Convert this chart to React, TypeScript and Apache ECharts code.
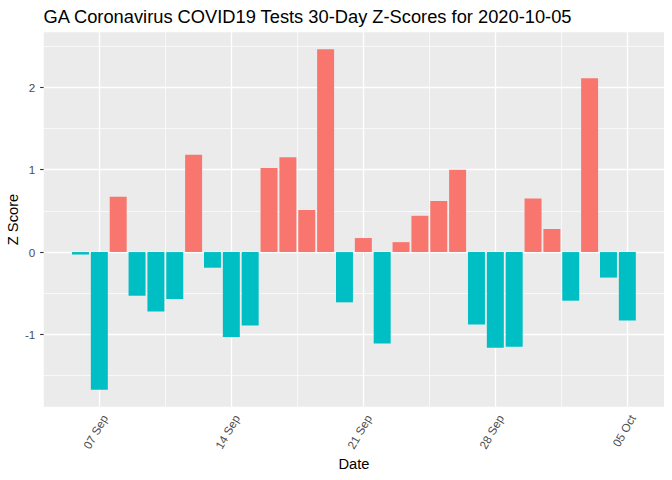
import React, { useEffect, useRef } from "react";
import * as echarts from "echarts";

const dates = [
  "2020-09-06", "2020-09-07", "2020-09-08", "2020-09-09", "2020-09-10",
  "2020-09-11", "2020-09-12", "2020-09-13", "2020-09-14", "2020-09-15",
  "2020-09-16", "2020-09-17", "2020-09-18", "2020-09-19", "2020-09-20",
  "2020-09-21", "2020-09-22", "2020-09-23", "2020-09-24", "2020-09-25",
  "2020-09-26", "2020-09-27", "2020-09-28", "2020-09-29", "2020-09-30",
  "2020-10-01", "2020-10-02", "2020-10-03", "2020-10-04", "2020-10-05",
];
const zScores = [
  -0.03, -1.67, 0.67, -0.53, -0.72, -0.57, 1.18, -0.19, -1.03, -0.89,
  1.02, 1.15, 0.51, 2.46, -0.61, 0.17, -1.11, 0.12, 0.44, 0.62,
  1.0, -0.88, -1.16, -1.15, 0.65, 0.28, -0.59, 2.11, -0.31, -0.83,
];
const xTickDates = ["2020-09-07", "2020-09-14", "2020-09-21", "2020-09-28", "2020-10-05"];
const xTickLabels = ["07 Sep", "14 Sep", "21 Sep", "28 Sep", "05 Oct"];
const xMinorDates = ["2020-09-10T12:00:00Z", "2020-09-17T12:00:00Z", "2020-09-24T12:00:00Z", "2020-10-01T12:00:00Z"];
const yTicks = [-1, 0, 1, 2];
const yMinor = [-1.5, -0.5, 0.5, 1.5, 2.5];

const DAY = 86400000;
const BASE = Date.parse("2020-08-31T00:00:00Z");
const toDay = (d: string) => (Date.parse(d.length === 10 ? d + "T00:00:00Z" : d) - BASE) / DAY;

export default function App() {
  const ref = useRef<HTMLDivElement>(null);
  useEffect(() => {
    if (!ref.current) return;
    const chart = echarts.init(ref.current, undefined, { renderer: "svg" });
    const xs = dates.map(toDay);
    const xLo = Math.min(...xs) - 0.45;
    const xHi = Math.max(...xs) + 0.45;
    const xPad = (xHi - xLo) * 0.05;
    const yLo = Math.min(...zScores);
    const yHi = Math.max(...zScores);
    const yPad = (yHi - yLo) * 0.05;
    const xTickVals = xTickDates.map(toDay);
    const font = "Liberation Sans";
    const gridLeft = 43.8;
    const gridRight = 8;
    const gridW = 672 - gridLeft - gridRight;
    const dayPx = gridW / (xHi - xLo + 2 * xPad);
    const major = { color: "#FFFFFF", width: 1.3, type: "solid" as const };
    const minor = { color: "#FFFFFF", width: 0.65, type: "solid" as const };
    const gridLines = [
      ...xTickVals.map((v) => ({ xAxis: v, lineStyle: major })),
      ...xMinorDates.map((d) => ({ xAxis: toDay(d), lineStyle: minor })),
      ...yTicks.map((v) => ({ yAxis: v, lineStyle: major })),
      ...yMinor.map((v) => ({ yAxis: v, lineStyle: minor })),
    ];
    chart.setOption({
      animation: false,
      title: {
        text: "GA Coronavirus COVID19 Tests 30-Day Z-Scores for 2020-10-05",
        left: 38.5,
        top: 2,
        textStyle: { fontFamily: font, fontSize: 18.3, fontWeight: "normal", color: "#000000" },
      },
      grid: {
        left: gridLeft,
        right: gridRight,
        top: 32.3,
        bottom: 73.3,
        containLabel: false,
        outerBoundsMode: "none",
        show: true,
        backgroundColor: "#EBEBEB",
        borderWidth: 0,
      },
      xAxis: {
        type: "value",
        min: xLo - xPad,
        max: xHi + xPad,
        name: "Date",
        nameLocation: "middle",
        nameGap: 50,
        nameMoveOverlap: false,
        nameTextStyle: { fontFamily: font, fontSize: 14.7, color: "#000000" },
        axisLine: { show: false },
        splitLine: { show: false },
        axisTick: { show: true, length: 3.7, lineStyle: { color: "#333333", width: 1.1 }, customValues: xTickVals },
        axisLabel: {
          customValues: xTickVals,
          formatter: (v: number) => {
            const i = xTickVals.findIndex((t) => Math.abs(t - v) < 1e-6);
            return i >= 0 ? xTickLabels[i] : "";
          },
          rotate: 60,
          margin: 6,
          verticalAlign: "top",
          fontFamily: font,
          fontSize: 11.7,
          color: "#4D4D4D",
        },
      },
      yAxis: {
        type: "value",
        min: yLo - yPad,
        max: yHi + yPad,
        name: "Z Score",
        nameLocation: "middle",
        nameGap: 23,
        nameMoveOverlap: false,
        nameTextStyle: { fontFamily: font, fontSize: 14.7, color: "#000000" },
        axisLine: { show: false },
        splitLine: { show: false },
        axisTick: { show: true, length: 3.7, lineStyle: { color: "#333333", width: 1.1 }, customValues: yTicks },
        axisLabel: {
          customValues: yTicks,
          formatter: (v: number) => String(v),
          margin: 8.5,
          fontFamily: font,
          fontSize: 11.7,
          color: "#4D4D4D",
        },
      },
      series: [
        {
          type: "bar",
          data: dates.map((d, i) => [toDay(d), zScores[i]]),
          barWidth: dayPx * 0.9,
          itemStyle: {
            color: (p: any) => (p.value[1] > 0 ? "#F8766D" : "#00BFC4"),
          },
          markLine: {
            silent: true,
            z: 1,
            symbol: ["none", "none"],
            label: { show: false },
            data: gridLines,
          },
        },
      ],
    });
    return () => chart.dispose();
  }, []);
  return (
    <div
      ref={ref}
      style={{ position: "fixed", left: 0, top: 0, width: 672, height: 480, background: "#FFFFFF" }}
    />
  );
}
